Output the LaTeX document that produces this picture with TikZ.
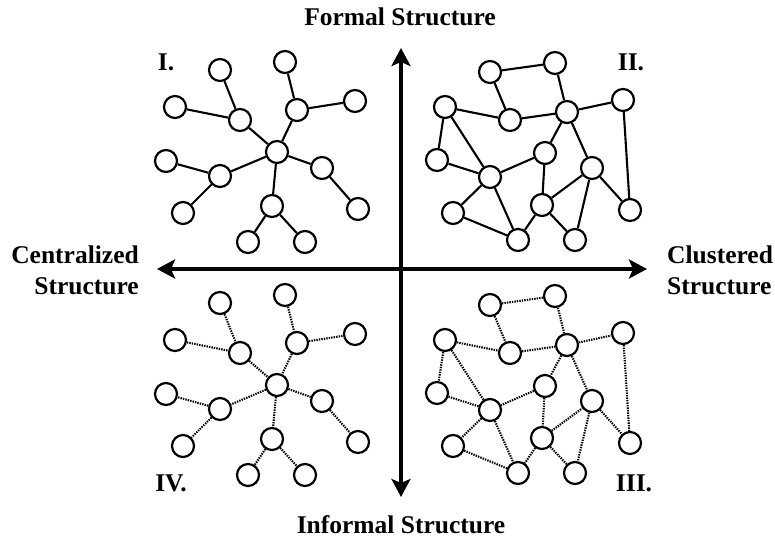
\documentclass[tikz,border=0pt]{standalone}
\usepackage{fontspec}
\setmainfont{Liberation Serif}
\usetikzlibrary{arrows.meta}
\tikzset{
  nd/.style={circle,draw,line width=2.2pt,minimum size=22pt,inner sep=0pt,fill=white},
  solidedge/.style={line width=2.1pt},
  dotedge/.style={line width=2.1pt,dash pattern=on 1.4pt off 1.1pt},
  axis/.style={line width=4pt,-{Stealth[length=18pt,width=19pt,inset=4pt]}},
  lbl/.style={font=\fontsize{25.5}{31}\selectfont\bfseries,inner sep=0pt},
}
\begin{document}
\begin{tikzpicture}[x=1pt,y=-1pt]
\useasboundingbox (0,0) rectangle (775,540);
% axes
\coordinate (O) at (401,269);
\coordinate (top) at (401,48);
\coordinate (bot) at (401,497);
\coordinate (lft) at (157,269);
\coordinate (rgt) at (647,269);
\draw[axis] (O) -- (top);
\draw[axis] (O) -- (bot);
\draw[axis] (O) -- (lft);
\draw[axis] (O) -- (rgt);
% labels
\node[lbl] (tf) at (400,17) {Formal Structure};
\node[lbl] (ti) at (401,525) {Informal Structure};
\node[lbl,align=right,anchor=east] (tc) at (139,270) {Centralized\\Structure};
\node[lbl,align=left,anchor=west] (tcl) at (667,270) {Clustered\\Structure};
\node[lbl] (q1) at (166,62) {I.};
\node[lbl] (q2) at (631,62) {II.};
\node[lbl] (q4) at (171,483) {IV.};
\node[lbl] (q3) at (634,483) {III.};
% Quadrant I and IV (centralized)
\foreach \dy/\p/\st in {0/a/solidedge,233/b/dotedge}{
  \node[nd] (\p1) at (220,70+\dy) {};
  \node[nd] (\p2) at (285,62+\dy) {};
  \node[nd] (\p3) at (355,101+\dy) {};
  \node[nd] (\p4) at (175,107+\dy) {};
  \node[nd] (\p5) at (240,120+\dy) {};
  \node[nd] (\p6) at (297,110+\dy) {};
  \node[nd] (\p7) at (277,152+\dy) {};
  \node[nd] (\p8) at (166,161+\dy) {};
  \node[nd] (\p9) at (220,176+\dy) {};
  \node[nd] (\p10) at (322,168+\dy) {};
  \node[nd] (\p11) at (183,213+\dy) {};
  \node[nd] (\p12) at (358,209+\dy) {};
  \node[nd] (\p13) at (272,206+\dy) {};
  \node[nd] (\p14) at (248,242+\dy) {};
  \node[nd] (\p15) at (305,242+\dy) {};
  \foreach \u/\v in {1/5,4/5,5/7,2/6,6/3,6/7,7/9,9/8,9/11,7/10,10/12,7/13,13/14,13/15}{
    \draw[\st] (\p\u) -- (\p\v);
  }
}
% Quadrant II and III (clustered)
\foreach \dy/\p/\st in {0/c/solidedge,233/d/dotedge}{
  \node[nd] (\p1) at (490,72+\dy) {};
  \node[nd] (\p2) at (555,63+\dy) {};
  \node[nd] (\p3) at (445,107+\dy) {};
  \node[nd] (\p4) at (510,120+\dy) {};
  \node[nd] (\p5) at (567,112+\dy) {};
  \node[nd] (\p6) at (623,100+\dy) {};
  \node[nd] (\p7) at (437,160+\dy) {};
  \node[nd] (\p8) at (545,153+\dy) {};
  \node[nd] (\p9) at (490,177+\dy) {};
  \node[nd] (\p10) at (592,168+\dy) {};
  \node[nd] (\p11) at (453,213+\dy) {};
  \node[nd] (\p12) at (542,205+\dy) {};
  \node[nd] (\p13) at (630,210+\dy) {};
  \node[nd] (\p14) at (518,240+\dy) {};
  \node[nd] (\p15) at (575,240+\dy) {};
  \foreach \u/\v in {1/2,1/4,2/5,3/4,4/5,5/6,6/13,3/7,3/9,7/9,5/8,5/10,8/9,8/12,9/11,9/14,11/14,12/14,12/10,12/15,10/15,10/13}{
    \draw[\st] (\p\u) -- (\p\v);
  }
}
\end{tikzpicture}
\end{document}
